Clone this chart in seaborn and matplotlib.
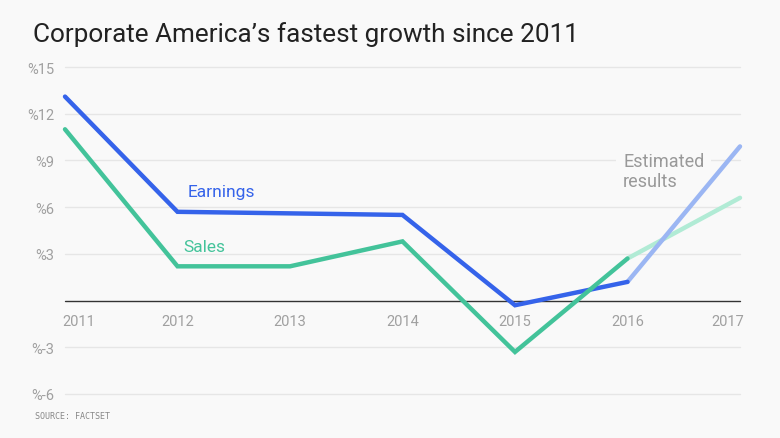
import matplotlib
matplotlib.use("Agg")
import matplotlib.pyplot as plt
import matplotlib.transforms as mtransforms
import seaborn as sns
import pandas as pd

# ---- data ----
years = [2011, 2012, 2013, 2014, 2015, 2016]
earnings = [13.1, 5.7, 5.6, 5.5, -0.3, 1.2]
sales = [11.0, 2.2, 2.2, 3.8, -3.3, 2.7]
est_years = [2016, 2017]
earnings_est = [1.2, 9.9]
sales_est = [2.7, 6.6]
year_labels = ["2011", "2012", "2013", "2014", "2015", "2016", "2017"]
y_ticks = [-6, -3, 3, 6, 9, 12, 15]
y_tick_labels = ["%-6", "%-3", "%3", "%6", "%9", "%12", "%15"]

title = "Corporate America\u2019s fastest growth since 2011"
source = "SOURCE: FACTSET"

BG = "#f9f9f9"
BLUE = "#3563ea"
GREEN = "#43c39a"
BLUE_EST = "#9bb6f3"
GREEN_EST = "#b1ebd5"
GRAY = "#a0a0a0"

sns.set_theme(style="white")
plt.rcParams["font.family"] = ["Roboto", "DejaVu Sans"]

fig = plt.figure(figsize=(7.8, 4.39), dpi=100, facecolor=BG)
ax = fig.add_axes([65 / 780, 1 - 395 / 439, (740 - 65) / 780, (395 - 68) / 439])
ax.set_facecolor(BG)

actual = pd.DataFrame({
    "year": years * 2,
    "value": earnings + sales,
    "series": ["Earnings"] * len(years) + ["Sales"] * len(years),
})
est = pd.DataFrame({
    "year": est_years * 2,
    "value": sales_est + earnings_est,
    "series": ["Sales"] * 2 + ["Earnings"] * 2,
})

# gridlines
for t in y_ticks:
    ax.axhline(t, color="#e6e6e6", lw=1, zorder=0)
ax.axhline(0, color="#333333", lw=1, zorder=1)

sns.lineplot(data=est, x="year", y="value", hue="series",
             hue_order=["Sales", "Earnings"],
             palette={"Earnings": BLUE_EST, "Sales": GREEN_EST},
             lw=3.2, legend=False, ax=ax, zorder=2)
sns.lineplot(data=actual, x="year", y="value", hue="series",
             hue_order=["Earnings", "Sales"],
             palette={"Earnings": BLUE, "Sales": GREEN},
             lw=3.2, legend=False, ax=ax, zorder=3)
for ln in ax.lines:
    ln.set_clip_on(False)
    ln.set_solid_joinstyle("miter")

ax.set_xlim(2011, 2017)
ax.set_ylim(-6, 15)
ax.set_xticks([])
ax.set_yticks(y_ticks)
ax.set_yticklabels(y_tick_labels)
ax.tick_params(axis="y", length=0, pad=8, labelsize=10.5, labelcolor=GRAY)
for s in ax.spines.values():
    s.set_visible(False)
ax.set_xlabel("")
ax.set_ylabel("")

# x labels under the zero line
all_years = years + [2017]
for i, (yr, lab) in enumerate(zip(all_years, year_labels)):
    ha = "center"
    dx = 0
    if i == 0:
        ha = "left"
        dx = -3
    elif i == len(all_years) - 1:
        ha = "right"
        dx = 4
    tr = mtransforms.offset_copy(ax.transData, fig=fig, x=dx, y=0, units="dots")
    ax.text(yr, -1.3, lab, ha=ha, va="center", fontsize=10.5, color=GRAY,
            transform=tr)

# series labels
ax.text(2012.09, 7.0, "Earnings", color=BLUE, fontsize=12.5, va="center", ha="left")
ax.text(2012.05, 3.5, "Sales", color=GREEN, fontsize=12.5, va="center", ha="left")
ax.text(2015.96, 8.3, "Estimated\nresults", color="#999999", fontsize=13,
        va="center", ha="left", linespacing=1.15, zorder=1.5,
        bbox=dict(boxstyle="square,pad=0.4", fc=BG, ec="none"))

fig.text(33 / 780, 1 - 35 / 439, title, fontsize=18.8, color="#222222",
         va="center", ha="left")
fig.text(35 / 780, 1 - 417 / 439, source, fontsize=6, color="#888888",
         family="DejaVu Sans Mono", va="center", ha="left")

fig.savefig("out.png", dpi=100, facecolor=BG)
